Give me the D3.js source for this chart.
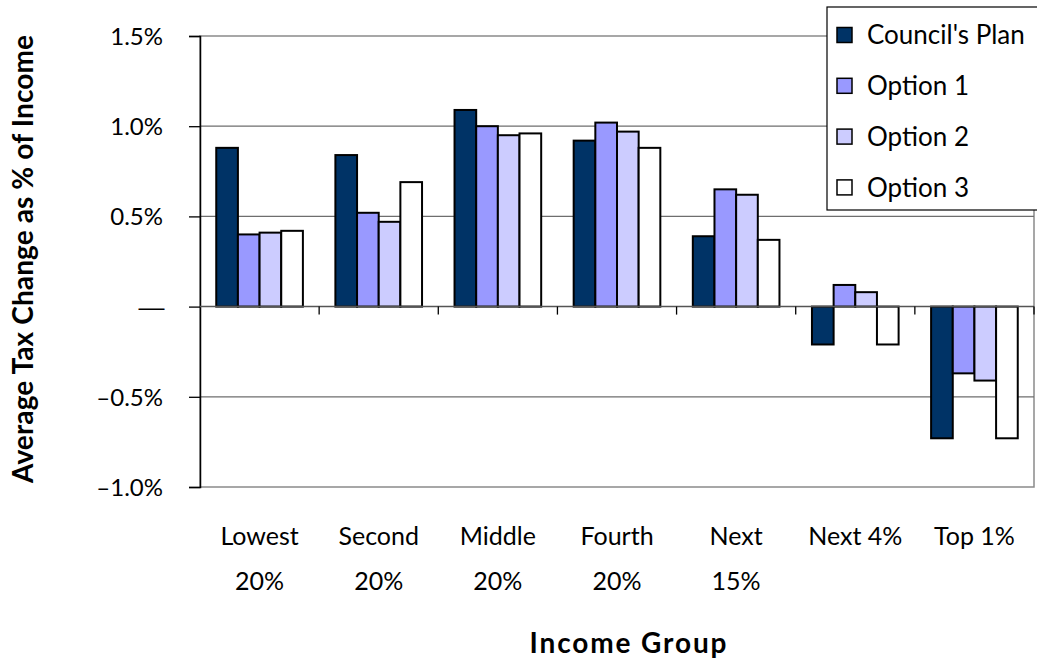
<!DOCTYPE html>
<html>
<head>
<meta charset="utf-8">
<script src="https://cdn.jsdelivr.net/npm/d3@7"></script>
<style>
  html, body { margin: 0; padding: 0; background: #fff; }
  svg { display: block; }
  text { font-family: Lato, "Open Sans", sans-serif; fill: #000; }
</style>
</head>
<body>
<svg id="chart" width="1037" height="659"></svg>
<script>
// ---------- data ----------
const categories = [["Lowest", "20%"], ["Second", "20%"], ["Middle", "20%"], ["Fourth", "20%"], ["Next", "15%"], ["Next 4%"], ["Top 1%"]];
const seriesNames = ["Council's Plan", "Option 1", "Option 2", "Option 3"];
const councilPlan = [0.88, 0.84, 1.09, 0.92, 0.39, -0.21, -0.73];
const option1 = [0.40, 0.52, 1.00, 1.02, 0.65, 0.12, -0.37];
const option2 = [0.41, 0.47, 0.95, 0.97, 0.62, 0.08, -0.41];
const option3 = [0.42, 0.69, 0.96, 0.88, 0.37, -0.21, -0.73];
const yTicks = [1.5, 1.0, 0.5, 0, -0.5, -1.0];
const yTickLabels = ["1.5%", "1.0%", "0.5%", "\u2014", "\u20130.5%", "\u20131.0%"];
const colors = ["#003366", "#9999FF", "#CCCCFF", "#FFFFFF"];
const yTitle = "Average Tax Change as % of Income";
const xTitle = "Income Group";

const seriesValues = [councilPlan, option1, option2, option3];

// ---------- layout ----------
const svg = d3.select("#chart");
const plot = { left: 200, right: 1034, top: 36, bottom: 487 };

const y = d3.scaleLinear().domain([-1.0, 1.5]).range([plot.bottom, plot.top]);
const x0 = d3.scaleBand().domain(d3.range(categories.length)).range([plot.left, plot.right]).paddingInner(0).paddingOuter(0);
// Excel-like gap width: 4 bars + 1.5 bar-width gap
const bw = x0.bandwidth() / 5.5;
const x1 = d3.scaleBand().domain(d3.range(seriesNames.length)).range([bw * 0.75, bw * 0.75 + bw * 4]).padding(0);

// plot area border
svg.append("rect")
  .attr("x", plot.left).attr("y", plot.top)
  .attr("width", plot.right - plot.left).attr("height", plot.bottom - plot.top)
  .attr("fill", "none").attr("stroke", "#8a8a8a").attr("stroke-width", 1.5);

// gridlines
svg.append("g").selectAll("line").data(yTicks.filter(t => t !== 0 && t !== -1.0 && t !== 1.5)).join("line")
  .attr("x1", plot.left).attr("x2", plot.right)
  .attr("y1", d => y(d)).attr("y2", d => y(d))
  .attr("stroke", "#6e6e6e").attr("stroke-width", 1.3);

// y axis
const yAxis = d3.axisLeft(y).tickValues(yTicks).tickSize(11).tickPadding(26)
  .tickFormat((d, i) => yTickLabels[i]);
const yg = svg.append("g").attr("transform", `translate(${plot.left},0)`).call(yAxis);
yg.select(".domain").attr("stroke", "#000").attr("stroke-width", 1.5);
yg.selectAll(".tick line").attr("stroke", "#000").attr("stroke-width", 1.3);
yg.selectAll(".tick text").style("font-size", "24px").attr("dy", "0.35em").attr("fill", "#000");
yg.selectAll(".tick text").filter((d) => d === 0)
  .attr("x", -64).attr("text-anchor", "start")
  .attr("textLength", 31).attr("lengthAdjust", "spacingAndGlyphs");

// bars
const groups = svg.append("g").selectAll("g").data(categories).join("g")
  .attr("transform", (d, i) => `translate(${x0(i)},0)`);
groups.selectAll("rect").data((d, i) => seriesValues.map((s, k) => ({ k, v: s[i] }))).join("rect")
  .attr("x", d => x1(d.k))
  .attr("width", x1.bandwidth())
  .attr("y", d => y(Math.max(0, d.v)))
  .attr("height", d => Math.abs(y(d.v) - y(0)))
  .attr("fill", d => colors[d.k])
  .attr("stroke", "#000").attr("stroke-width", 2);

// zero axis line with category ticks
svg.append("line")
  .attr("x1", plot.left).attr("x2", plot.right)
  .attr("y1", y(0)).attr("y2", y(0))
  .attr("stroke", "#555").attr("stroke-width", 1.5);
svg.append("g").selectAll("line").data(d3.range(1, categories.length + 1)).join("line")
  .attr("x1", d => plot.left + d * x0.bandwidth()).attr("x2", d => plot.left + d * x0.bandwidth())
  .attr("y1", y(0)).attr("y2", y(0) + 8)
  .attr("stroke", "#000").attr("stroke-width", 1.3);

// category labels
const catG = svg.append("g");
categories.forEach((lines, i) => {
  const cx = x0(i) + x0.bandwidth() / 2;
  lines.forEach((ln, j) => {
    catG.append("text").attr("x", cx).attr("y", 545 + j * 45)
      .attr("text-anchor", "middle").style("font-size", "25px").text(ln);
  });
});

// axis titles
svg.append("text").attr("x", 628).attr("y", 653).attr("text-anchor", "middle")
  .style("font-size", "28px").style("font-weight", "bold")
  .attr("textLength", 197).attr("lengthAdjust", "spacing").text(xTitle);
svg.append("text").attr("transform", "translate(33,259) rotate(-90)").attr("text-anchor", "middle")
  .style("font-size", "28px").style("font-weight", "bold")
  .attr("textLength", 448).attr("lengthAdjust", "spacing").text(yTitle);

// legend
const lg = svg.append("g");
lg.append("rect").attr("x", 827).attr("y", 7).attr("width", 220).attr("height", 203)
  .attr("fill", "#fff").attr("stroke", "#000").attr("stroke-width", 1.2);
seriesNames.forEach((name, i) => {
  const cy = 35 + i * 50.8;
  lg.append("rect").attr("x", 837).attr("y", cy - 7.5).attr("width", 15).attr("height", 15)
    .attr("fill", colors[i]).attr("stroke", "#000").attr("stroke-width", 1.5);
  lg.append("text").attr("x", 867).attr("y", cy).attr("dy", "0.35em")
    .style("font-size", "26px").text(name);
});
</script>
</body>
</html>
